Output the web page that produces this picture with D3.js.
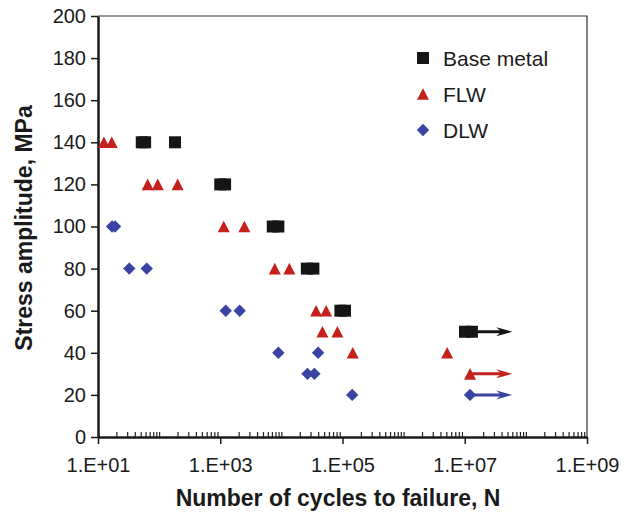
<!DOCTYPE html>
<html>
<head>
<meta charset="utf-8">
<script src="https://cdn.jsdelivr.net/npm/d3@7"></script>
<style>
  body { margin: 0; background: #fff; }
  text { font-family: "Liberation Sans", Arial, sans-serif; fill: #1a1a1a; }
  .axisTitle { font-weight: bold; font-size: 23px; }
</style>
</head>
<body>
<div id="chart"></div>
<script>
// Base metal
var baseN = [52, 59, 182, 1000, 1200, 7230, 8930, 26100, 33400, 92500, 110000, 1.01e7, 1.31e7];
var baseS = [140, 140, 140, 120, 120, 100, 100, 80, 80, 60, 60, 50, 50];
// FLW
var flwN = [12.5, 16.8, 65, 95, 201, 1140, 2480, 7800, 13500, 37000, 54000, 46900, 82600, 147000, 5.15e6, 1.22e7];
var flwS = [140, 140, 120, 120, 120, 100, 100, 80, 80, 60, 60, 50, 50, 40, 40, 30];
// DLW
var dlwN = [17, 19, 32.5, 62.7, 1230, 2080, 8930, 39900, 26700, 34700, 144000, 1.22e7];
var dlwS = [100, 100, 80, 80, 60, 60, 40, 40, 30, 30, 20, 20];

// run-outs (no failure): start point and arrow end
var runouts = [
  { name: "Base metal", n0: 1.31e7, n1: 6e7, s: 50 },
  { name: "FLW", n0: 1.22e7, n1: 6e7, s: 30 },
  { name: "DLW", n0: 1.22e7, n1: 6e7, s: 20 }
];

var xMajor = [1e1, 1e3, 1e5, 1e7, 1e9];
var xLabels = ["1.E+01", "1.E+03", "1.E+05", "1.E+07", "1.E+09"];
var yTicks = [0, 20, 40, 60, 80, 100, 120, 140, 160, 180, 200];

var colors = { "Base metal": "#151515", "FLW": "#c4211d", "DLW": "#3a43a1" };
var shapes = {
  "Base metal": "M-6,-6H6V6H-6Z",
  "FLW": "M0,-5.8L6,5.8L-6,5.8Z",
  "DLW": "M0,-6.2L6.2,0L0,6.2L-6.2,0Z"
};

var svgWidth = 625, svgHeight = 518;
var plotLeft = 98, plotRight = 587, plotTop = 16, plotBottom = 437;

var svg = d3.select("#chart").append("svg")
  .attr("width", svgWidth)
  .attr("height", svgHeight);

var x = d3.scaleLog().domain([1e1, 1e9]).range([plotLeft, plotRight]);
var y = d3.scaleLinear().domain([0, 200]).range([plotBottom, plotTop]);

// frame top and right
svg.append("path")
  .attr("d", `M${plotLeft},${plotTop}H${plotRight}V${plotBottom}`)
  .attr("fill", "none")
  .attr("stroke", "#333")
  .attr("stroke-width", 1.2);

// minor ticks pointing up
var minor = [];
for (var e = 1; e < 9; e++) {
  for (var m = 1; m < 10; m++) {
    var v = m * Math.pow(10, e);
    if (!(m === 1 && e % 2 === 1)) minor.push(v);
  }
}
svg.append("g")
  .attr("transform", `translate(0,${plotBottom})`)
  .call(d3.axisBottom(x).tickValues(minor).tickSize(-5).tickFormat(""))
  .call(g => g.select(".domain").remove())
  .call(g => g.selectAll("line").attr("stroke", "#222").attr("stroke-width", 1.2));

// major x axis
svg.append("g")
  .attr("transform", `translate(0,${plotBottom})`)
  .call(d3.axisBottom(x).tickValues(xMajor).tickSizeInner(7).tickSizeOuter(0)
    .tickFormat((d, i) => xLabels[i]))
  .call(g => g.select(".domain").attr("stroke", "#1a1a1a").attr("stroke-width", 2.5))
  .call(g => g.selectAll("line").attr("stroke", "#1a1a1a").attr("stroke-width", 1.5))
  .call(g => g.selectAll("text").attr("font-size", 20).attr("y", 29).attr("dy", "0.32em")
    .style("font-family", "'Liberation Sans', Arial, sans-serif").attr("fill", "#1a1a1a"));

// y axis
svg.append("g")
  .attr("transform", `translate(${plotLeft},0)`)
  .call(d3.axisLeft(y).tickValues(yTicks).tickSizeInner(7).tickSizeOuter(0).tickPadding(5))
  .call(g => g.select(".domain").attr("stroke", "#1a1a1a").attr("stroke-width", 2.5))
  .call(g => g.selectAll("line").attr("stroke", "#1a1a1a").attr("stroke-width", 1.5))
  .call(g => g.selectAll("text").attr("font-size", 20)
    .style("font-family", "'Liberation Sans', Arial, sans-serif").attr("fill", "#1a1a1a"));

// axis titles
svg.append("text")
  .attr("class", "axisTitle")
  .attr("x", 338)
  .attr("y", 506)
  .attr("text-anchor", "middle")
  .text("Number of cycles to failure, N");

svg.append("text")
  .attr("class", "axisTitle")
  .attr("transform", "translate(32,228) rotate(-90)")
  .attr("text-anchor", "middle")
  .text("Stress amplitude, MPa");

// run-out arrows
runouts.forEach(function(r) {
  var x1 = x(r.n1), yy = y(r.s);
  svg.append("line")
    .attr("x1", x(r.n0)).attr("x2", x1 - 10)
    .attr("y1", yy).attr("y2", yy)
    .attr("stroke", colors[r.name])
    .attr("stroke-width", 3);
  svg.append("path")
    .attr("d", `M${x1},${yy}L${x1 - 16},${yy - 4.5}L${x1 - 11},${yy}L${x1 - 16},${yy + 4.5}Z`)
    .attr("fill", colors[r.name]);
});

// points
var series = [
  { name: "Base metal", n: baseN, s: baseS },
  { name: "FLW", n: flwN, s: flwS },
  { name: "DLW", n: dlwN, s: dlwS }
];

series.forEach(function(ser) {
  svg.append("g").selectAll("path")
    .data(ser.n.map((d, i) => [d, ser.s[i]]))
    .enter()
    .append("path")
    .attr("d", shapes[ser.name])
    .attr("transform", d => `translate(${x(d[0])},${y(d[1])})`)
    .attr("fill", colors[ser.name]);
});

// legend
var legend = svg.append("g").attr("transform", "translate(423,58)");
series.forEach(function(ser, i) {
  legend.append("path")
    .attr("d", shapes[ser.name])
    .attr("transform", `translate(0,${i * 36})`)
    .attr("fill", colors[ser.name]);
  legend.append("text")
    .attr("x", 20)
    .attr("y", i * 36)
    .attr("dy", "0.36em")
    .attr("font-size", 21)
    .text(ser.name);
});
</script>
</body>
</html>
